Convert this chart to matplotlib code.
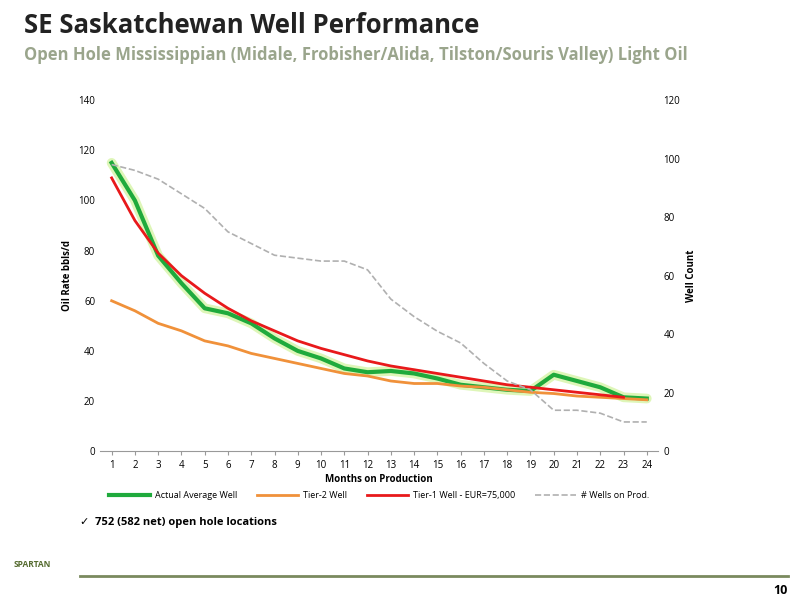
import matplotlib
matplotlib.use("Agg")
import matplotlib.pyplot as plt

months = list(range(1, 25))
actual = [115, 100, 78, 67, 57, 55, 51, 45, 40, 37, 33, 31.5, 32, 31, 29, 26.5, 25.5, 24.5, 24, 30.5, 28, 25.5, 21.5, 21]
tier2 = [60, 56, 51, 48, 44, 42, 39, 37, 35, 33, 31, 30, 28, 27, 27, 26, 25.5, 24.5, 23.5, 23, 22, 21.5, 21, 20.5]
tier1 = [109, 92, 79, 70, 63, 57, 52, 48, 44, 41, 38.5, 36, 34, 32.5, 31, 29.5, 28, 26.5, 25.5, 24.5, 23.5, 22.5, 21.5]
wells = [98, 96, 93, 88, 83, 75, 71, 67, 66, 65, 65, 62, 52, 46, 41, 37, 30, 24, 21, 14, 14, 13, 10, 10]

plt.rcParams['font.family'] = ['Open Sans', 'DejaVu Sans']
fig = plt.figure(figsize=(8, 6), dpi=100)
fig.text(0.03, 0.945, "SE Saskatchewan Well Performance", fontsize=18.5, fontweight='bold', color='#222222')
fig.text(0.03, 0.9, "Open Hole Mississippian (Midale, Frobisher/Alida, Tilston/Souris Valley) Light Oil",
         fontsize=12, fontweight='bold', color='#9aa58c')

ax = fig.add_axes([0.125, 0.248, 0.698, 0.585])
ax2 = ax.twinx()
ax.plot(months, actual, color='#c8f08a', lw=7, alpha=0.6, solid_capstyle='round')
l1, = ax.plot(months, actual, color='#1faa3c', lw=3, label='Actual Average Well')
l2, = ax.plot(months, tier2, color='#f0913a', lw=2, label='Tier-2 Well')
l3, = ax.plot(months[:len(tier1)], tier1, color='#e8191b', lw=2, label='Tier-1 Well - EUR=75,000')
l4, = ax2.plot(months, wells, color='#b0b0b0', lw=1.2, ls='--', label='# Wells on Prod.')

ax.set_ylim(0, 140); ax.set_yticks(range(0, 141, 20))
ax2.set_ylim(0, 120); ax2.set_yticks(range(0, 121, 20))
ax.set_xlim(0.5, 24.5); ax.set_xticks(months)
for a in (ax, ax2):
    a.tick_params(labelsize=7, length=0)
    for s in a.spines.values():
        s.set_visible(False)
ax.spines['bottom'].set_visible(True); ax.spines['bottom'].set_color('#999999')
ax.tick_params(axis='x', length=3, color='#999999', direction='out')
ax.set_xlabel("Months on Production", fontsize=7, fontweight='bold', labelpad=2)
ax.set_ylabel("Oil Rate bbls/d", fontsize=7, fontweight='bold')
ax2.set_ylabel("Well Count", fontsize=7, fontweight='bold')
ax.legend(handles=[l1, l2, l3, l4], loc='upper center', bbox_to_anchor=(0.5, -0.09), ncol=4,
          frameon=False, fontsize=6.5, handlelength=4.5, columnspacing=2.2, handletextpad=0.6)

fig.text(0.1, 0.125, "\u2713  752 (582 net) open hole locations", fontsize=8, fontweight='bold')
fig.add_artist(plt.Line2D([0.1, 0.985], [0.04, 0.04], color='#7a8a5e', lw=2, transform=fig.transFigure))
fig.text(0.04, 0.055, "SPARTAN", fontsize=6, fontweight='bold', color='#556b2f', ha='center')
fig.text(0.985, 0.01, "10", fontsize=9, fontweight='bold', ha='right')
fig.savefig("out.png", dpi=100)
